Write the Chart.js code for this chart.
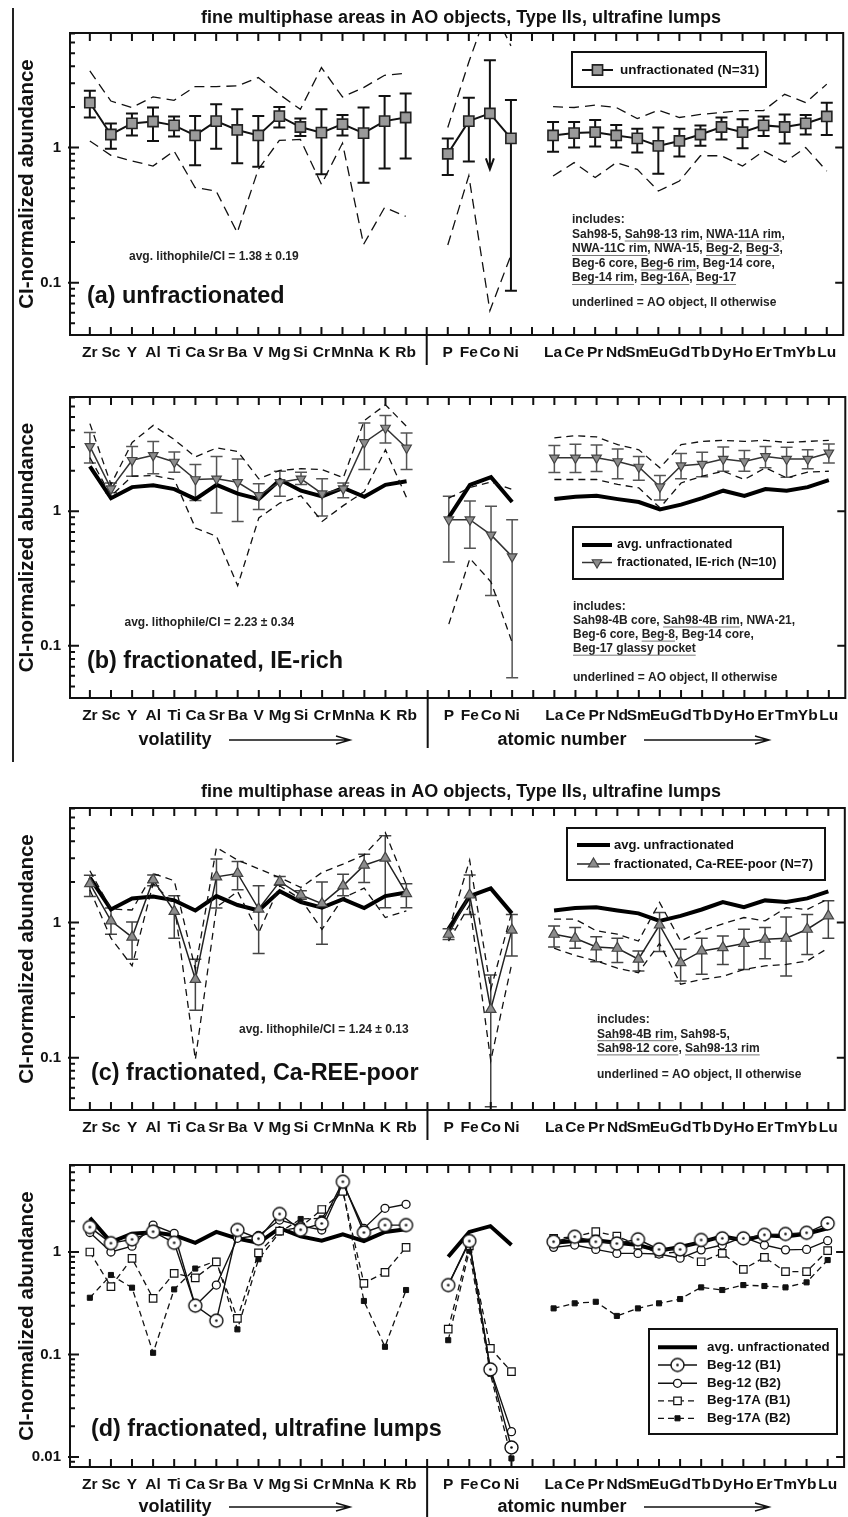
<!DOCTYPE html>
<html>
<head>
<meta charset="utf-8">
<script src="https://cdn.jsdelivr.net/npm/chart.js@4.4.1/dist/chart.umd.min.js"></script>
<style>
  html, body { margin: 0; padding: 0; background: #fff; overflow: hidden; }
  #wrap { position: relative; width: 852px; height: 1517px; }
  .panel { position: absolute; left: 0; width: 852px; }
  #edge { position: absolute; left: 12px; top: 8px; width: 2px; height: 754px; background: #222; }
</style>
</head>
<body>
<div id="wrap">
  <div class="panel" style="top:0"><canvas id="ca" width="852" height="372"></canvas></div>
  <div class="panel" style="top:372px"><canvas id="cb" width="852" height="393"></canvas></div>
  <div class="panel" style="top:765px"><canvas id="cc" width="852" height="378"></canvas></div>
  <div class="panel" style="top:1143px"><canvas id="cd" width="852" height="374"></canvas></div>
  <div id="edge"></div>
</div>
<script>
// ---- data ----
const _ = null;
const elements = ['Zr','Sc','Y','Al','Ti','Ca','Sr','Ba','V','Mg','Si','Cr','Mn','Na','K','Rb','',
  'P','Fe','Co','Ni','','La','Ce','Pr','Nd','Sm','Eu','Gd','Tb','Dy','Ho','Er','Tm','Yb','Lu'];

// (a) unfractionated, N=31
const unfracMean = [2.15,1.25,1.51,1.56,1.46,1.23,1.57,1.35,1.23,1.71,1.42,1.29,1.49,1.28,1.57,1.67,_,
  0.90,1.57,1.79,1.17,_, 1.23,1.28,1.30,1.23,1.17,1.03,1.12,1.25,1.42,1.30,1.46,1.42,1.51,1.70];
const unfracHi = [2.63,1.51,1.79,1.98,1.70,1.71,2.09,1.92,1.71,2.00,1.64,1.92,1.74,1.98,2.41,2.51,_,
  1.17,2.34,4.43,2.25,_, 1.55,1.55,1.60,1.47,1.38,1.41,1.38,1.46,1.67,1.62,1.70,1.76,1.74,2.15];
const unfracLo = [1.67,0.98,1.23,1.12,1.21,0.74,0.98,0.765,0.72,1.41,1.22,0.635,1.23,0.55,0.70,0.83,_,
  0.627,0.79,0.69,0.087,_, 0.93,1.00,1.02,1.00,0.92,0.64,0.86,1.03,1.15,0.99,1.22,1.07,1.25,1.24];
const unfracMax = [3.69,2.21,1.98,2.37,2.24,2.83,2.83,2.86,3.30,2.48,1.92,3.91,2.37,2.78,3.43,3.55,_,
  1.41,4.3,11.7,5.66,_, 2.01,1.98,2.06,1.98,1.64,1.89,1.67,1.76,1.82,1.88,1.88,2.48,2.15,2.95];
const unfracMin = [1.12,0.877,0.796,0.73,0.944,0.506,0.477,0.235,0.69,1.13,1.15,0.535,1.08,0.192,0.36,0.31,_,
  0.19,0.62,0.062,0.16,_, 0.616,0.774,0.60,0.774,0.69,0.477,0.565,0.87,0.87,0.73,0.944,0.78,1.0,0.67];

// (b) fractionated, IE-rich, N=10
const ieMean = [3.03,1.47,2.39,2.60,2.32,1.72,1.74,1.64,1.31,1.64,1.74,1.35,1.47,3.24,4.15,2.95,_,
  0.865,0.865,0.667,0.46,_, 2.49,2.49,2.49,2.34,2.13,1.52,2.18,2.24,2.44,2.34,2.55,2.44,2.44,2.71];
const ieHi = [3.85,1.62,3.03,3.30,2.75,2.22,2.55,2.44,1.60,1.98,1.95,1.74,1.62,4.52,5.14,3.81,_,
  1.29,1.19,1.09,0.865,_, 3.07,3.14,3.10,2.90,2.55,1.84,2.68,2.74,3.00,2.83,3.03,2.98,2.86,3.15];
const ieLo = [2.28,1.37,1.82,1.90,1.95,1.20,0.97,0.84,1.03,1.29,1.58,0.92,1.26,2.04,3.21,2.04,_,
  0.42,0.53,0.237,0.058,_, 1.94,1.94,1.97,1.74,1.70,1.21,1.74,1.80,1.98,1.98,2.10,1.79,2.07,2.28];
const ieMax = [4.47,1.58,3.24,4.34,3.40,2.53,2.95,2.78,1.74,2.01,2.07,2.04,1.77,4.72,6.17,4.26,_,
  1.25,1.5,1.65,1.45,_, 3.50,3.64,3.56,3.12,2.86,2.10,3.12,3.30,3.36,3.30,3.36,3.24,3.30,3.36];
const ieMin = [2.5,1.3,1.82,1.84,1.72,0.75,0.65,0.28,0.89,1.15,1.3,0.84,1.1,1.4,2.86,1.26,_,
  0.145,0.446,0.298,0.106,_, 1.72,1.72,1.72,1.58,1.49,1.06,1.62,1.82,1.98,1.72,2.10,1.77,1.95,1.98];

// (c) fractionated, Ca-REE-poor, N=7
const caMean = [1.94,1.03,0.78,2.07,1.21,0.38,2.18,2.31,1.26,2.01,1.60,1.38,1.87,2.66,3.00,1.64,_,
  0.82,1.60,0.228,0.88,_, 0.82,0.766,0.66,0.646,0.536,0.96,0.506,0.617,0.653,0.70,0.753,0.766,0.893,1.12];
const caHi = [2.24,1.28,1.01,2.25,1.58,0.536,2.95,2.83,1.87,2.19,1.72,2.00,2.28,3.21,4.39,1.94,_,
  0.90,2.25,0.41,1.15,_, 0.945,0.918,0.784,0.766,0.617,1.19,0.635,0.766,0.797,0.893,0.918,1.10,1.15,1.45];
const caLo = [1.56,0.82,0.536,1.87,0.766,0.224,1.28,1.75,0.59,1.89,1.49,0.69,1.58,1.98,1.29,1.29,_,
  0.75,1.15,0.0434,0.567,_, 0.66,0.646,0.514,0.506,0.439,0.61,0.37,0.415,0.49,0.45,0.54,0.403,0.58,0.766];
const caMax = [2.42,1.26,1.24,2.31,2.04,0.45,3.6,2.9,2.5,2.15,1.82,2.35,2.71,3.17,4.64,1.9,_,
  0.87,2.9,0.32,1.2,_, 1.06,1.06,0.87,0.82,0.73,1.41,0.73,0.87,0.98,1.09,1.03,1.29,1.25,1.5];
const caMin = [1.75,0.766,0.478,1.95,1.37,0.097,1.3,1.7,0.84,1.87,1.49,0.89,1.52,1.8,1.09,1.22,_,
  0.73,1.35,0.095,0.5,_, 0.646,0.57,0.52,0.46,0.426,0.7,0.35,0.38,0.40,0.45,0.478,0.49,0.52,0.65];

// (d) ultrafine lumps
const beg12B1 = [1.75,1.22,1.33,1.58,1.23,0.30,0.214,1.64,1.35,2.35,1.65,1.90,4.85,1.55,1.83,1.83,_,
  0.476,1.28,0.0716,0.0124,_, 1.26,1.41,1.26,1.21,1.33,1.06,1.06,1.31,1.36,1.36,1.47,1.50,1.54,1.90];
const beg12B2 = [1.55,1.00,1.14,1.83,1.52,0.30,0.476,1.36,1.45,2.05,1.80,1.64,4.7,1.70,2.67,2.92,_,
  0.476,1.25,0.072,0.0177,_, 1.11,1.17,1.06,0.97,0.97,0.955,0.87,1.05,1.17,1.40,1.17,1.05,1.06,1.29];
const beg17B1 = [1.0,0.46,0.867,0.353,0.62,0.56,0.80,0.225,0.98,1.6,1.75,2.6,3.9,0.495,0.634,1.11,_,
  0.177,1.15,0.115,0.068,_, 1.36,1.41,1.58,1.43,1.17,0.97,1.0,0.804,0.97,0.678,0.887,0.643,0.643,1.03];
const beg17B2 = [0.358,0.597,0.449,0.104,0.432,0.69,0.82,0.176,0.85,1.55,2.1,2.13,4.09,0.333,0.119,0.426,_,
  0.138,1.03,0.065,0.0097,_, 0.282,0.316,0.327,0.238,0.282,0.316,0.348,0.452,0.426,0.476,0.466,0.452,0.506,0.835];

const TITLE = 'fine multiphase areas in AO objects, Type IIs, ultrafine lumps';
const FONT = '"Liberation Sans", Arial, sans-serif';
const X_MIN = -0.942, X_MAX = 35.78;

function pts(arr) { return arr.map((v, i) => ({ x: i, y: v })); }

function dotCircle(r) {
  const c = document.createElement('canvas');
  const s = Math.ceil(2 * r + 4);
  c.width = c.height = s;
  const g = c.getContext('2d');
  g.beginPath(); g.arc(s / 2, s / 2, r, 0, Math.PI * 2);
  g.fillStyle = '#fff'; g.fill();
  g.lineWidth = 1.4; g.strokeStyle = '#111'; g.stroke();
  g.beginPath(); g.arc(s / 2, s / 2, 1.3, 0, Math.PI * 2);
  g.fillStyle = '#111'; g.fill();
  return c;
}
const dotImg = dotCircle(6.5);

// ---- dataset builders ----
function envelope(arr, dash) {
  return { data: pts(arr), borderColor: '#111', borderWidth: 1.3, borderDash: dash, pointRadius: 0, order: 5 };
}
function avgLine() {
  return { data: pts(unfracMean), borderColor: '#000', borderWidth: 4, pointRadius: 0, order: 10 };
}

// ---- drawing helpers ----
function drawMarker(ctx, ds, x, y) {
  const st = ds.pointStyle, r = ds.pointRadius, rot = (ds.pointRotation || 0) * Math.PI / 180;
  if (st instanceof HTMLCanvasElement) {
    ctx.drawImage(st, x - st.width / 2, y - st.height / 2);
    return;
  }
  ctx.save();
  ctx.fillStyle = ds.pointBackgroundColor;
  ctx.strokeStyle = ds.pointBorderColor;
  ctx.lineWidth = ds.pointBorderWidth;
  ctx.setLineDash([]);
  ctx.beginPath();
  if (st === 'rect') {
    const h = Math.SQRT1_2 * r;
    ctx.rect(x - h, y - h, 2 * h, 2 * h);
  } else if (st === 'triangle') {
    let a = rot;
    ctx.moveTo(x + Math.sin(a) * r, y - Math.cos(a) * r);
    a += 2 * Math.PI / 3; ctx.lineTo(x + Math.sin(a) * r, y - Math.cos(a) * r);
    a += 2 * Math.PI / 3; ctx.lineTo(x + Math.sin(a) * r, y - Math.cos(a) * r);
    ctx.closePath();
  } else {
    ctx.arc(x, y, r, 0, Math.PI * 2);
  }
  ctx.fill();
  ctx.stroke();
  ctx.restore();
}

function drawErrorBars(chart) {
  const { ctx, scales: { x, y } } = chart;
  chart.data.datasets.forEach(ds => {
    if (!ds.errHi) return;
    ctx.save();
    ctx.strokeStyle = ds.errColor;
    ctx.lineWidth = ds.errWidth;
    ds.errHi.forEach((hi, i) => {
      const lo = ds.errLo[i];
      if (hi == null || lo == null) return;
      const px = x.getPixelForValue(i), yh = y.getPixelForValue(hi), yl = y.getPixelForValue(lo);
      ctx.beginPath();
      ctx.moveTo(px, yh); ctx.lineTo(px, yl);
      ctx.moveTo(px - 6, yh); ctx.lineTo(px + 6, yh);
      if (ds.errArrow && ds.errArrow.includes(i)) {
        ctx.moveTo(px - 4, yl - 11); ctx.lineTo(px, yl); ctx.lineTo(px + 4, yl - 11);
      } else {
        ctx.moveTo(px - 6, yl); ctx.lineTo(px + 6, yl);
      }
      ctx.stroke();
    });
    ctx.restore();
  });
}

function text(ctx, s, x, y, size, align, color) {
  ctx.font = 'bold ' + size + 'px ' + FONT;
  ctx.fillStyle = color || '#111';
  ctx.textAlign = align || 'left';
  ctx.textBaseline = 'middle';
  ctx.fillText(s, x, y);
}

function arrowRight(ctx, x0, x1, y) {
  ctx.save();
  ctx.strokeStyle = '#111'; ctx.lineWidth = 1.5;
  ctx.beginPath();
  ctx.moveTo(x0, y); ctx.lineTo(x1, y);
  ctx.moveTo(x1 - 14, y - 4); ctx.lineTo(x1, y); ctx.lineTo(x1 - 14, y + 4);
  ctx.stroke();
  ctx.restore();
}

const decor = {
  id: 'decor',
  beforeDatasetsDraw(chart) { drawErrorBars(chart); },
  afterDatasetsDraw(chart, args, o) {
    const { ctx, chartArea: a, scales: { x, y } } = chart;
    const off = o.offset;
    ctx.save();
    // frame and ticks
    ctx.strokeStyle = '#111'; ctx.lineWidth = 2; ctx.setLineDash([]);
    ctx.strokeRect(a.left, a.top, a.right - a.left, a.bottom - a.top);
    ctx.beginPath();
    for (let i = 0; i < elements.length; i++) {
      const px = x.getPixelForValue(i);
      ctx.moveTo(px, a.top); ctx.lineTo(px, a.top + 8);
      ctx.moveTo(px, a.bottom); ctx.lineTo(px, a.bottom - 8);
    }
    const d0 = Math.floor(Math.log10(y.min)), d1 = Math.ceil(Math.log10(y.max));
    for (let d = d0; d <= d1; d++) {
      for (let m = 1; m <= 9; m++) {
        const v = m * Math.pow(10, d);
        if (v < y.min || v > y.max) continue;
        const py = y.getPixelForValue(v);
        if (m === 1) {
          ctx.moveTo(a.left - 2, py); ctx.lineTo(a.left + 9, py);
          ctx.moveTo(a.right - 8, py); ctx.lineTo(a.right, py);
        } else {
          ctx.moveTo(a.left, py); ctx.lineTo(a.left + 5, py);
        }
      }
    }
    const dx = x.getPixelForValue(16);
    ctx.moveTo(dx, a.bottom); ctx.lineTo(dx, a.bottom + o.divLen);
    ctx.stroke();

    // y tick labels
    o.yLabels.forEach(v => text(ctx, String(v), 61, y.getPixelForValue(v), 15, 'right'));
    // x labels
    elements.forEach((s, i) => { if (s) text(ctx, s, x.getPixelForValue(i), a.bottom + 18, 15.5, 'center'); });

    // y axis title
    ctx.save();
    ctx.translate(27, (a.top + a.bottom) / 2);
    ctx.rotate(-Math.PI / 2);
    text(ctx, 'CI-normalized abundance', 0, 0, 20.5, 'center');
    ctx.restore();

    if (o.title) text(ctx, TITLE, 461, o.title - off, 18, 'center');
    if (o.bottomTitles) {
      const by = o.bottomTitles - off;
      text(ctx, 'volatility', 175, by, 18, 'center');
      arrowRight(ctx, 229, 350, by);
      text(ctx, 'atomic number', 562, by, 18, 'center');
      arrowRight(ctx, 644, 769, by);
    }
    text(ctx, o.label[0], o.label[1], o.label[2] - off, 23.4, 'left');
    if (o.avg) text(ctx, o.avg[0], o.avg[1], o.avg[2] - off, 12, 'left', '#222');

    // includes block with underlined names
    if (o.includes) {
      const inc = o.includes;
      ctx.font = 'bold 12px ' + FONT;
      inc.lines.forEach((line, li) => {
        let cx = inc.x;
        const ly = inc.ys[li] - off;
        line.forEach(([s, u]) => {
          text(ctx, s, cx, ly, 12, 'left', '#222');
          const w = ctx.measureText(s).width;
          if (u) {
            ctx.save();
            ctx.strokeStyle = '#777'; ctx.lineWidth = 1;
            ctx.beginPath(); ctx.moveTo(cx, ly + 6.5); ctx.lineTo(cx + w, ly + 6.5); ctx.stroke();
            ctx.restore();
          }
          cx += w;
        });
      });
      text(ctx, 'underlined = AO object, II otherwise', inc.x, inc.note - off, 12, 'left', '#222');
    }

    // legend box
    if (o.legend) {
      const L = o.legend;
      ctx.fillStyle = '#fff';
      ctx.fillRect(L.x, L.y - off, L.w, L.h);
      ctx.strokeStyle = '#111'; ctx.lineWidth = 2; ctx.setLineDash([]);
      ctx.strokeRect(L.x, L.y - off, L.w, L.h);
      L.items.forEach(it => {
        const ds = chart.data.datasets[it.ds];
        const iy = it.y - off;
        ctx.save();
        ctx.strokeStyle = ds.borderColor; ctx.lineWidth = ds.borderWidth;
        ctx.setLineDash(ds.borderDash || []);
        ctx.beginPath(); ctx.moveTo(L.s0, iy); ctx.lineTo(L.s1, iy); ctx.stroke();
        ctx.restore();
        if (ds.pointRadius) drawMarker(ctx, ds, (L.s0 + L.s1) / 2, iy);
        text(ctx, it.text, L.tx, iy, L.size, 'left');
      });
    }
    ctx.restore();
  }
};

function makeChart(id, cfg) {
  new Chart(document.getElementById(id), {
    type: 'line',
    data: { datasets: cfg.datasets },
    options: {
      responsive: false,
      animation: false,
      events: [],
      layout: { padding: { left: 70, right: 2, top: cfg.padTop, bottom: cfg.padBottom } },
      elements: { line: { tension: 0 } },
      scales: {
        x: { type: 'linear', min: X_MIN, max: X_MAX, display: false },
        y: { type: 'logarithmic', min: cfg.ymin, max: cfg.ymax, display: false }
      },
      plugins: { legend: { display: false }, tooltip: { enabled: false }, decor: cfg.decor }
    },
    plugins: [decor]
  });
}

// ---- panel (a) ----
makeChart('ca', {
  padTop: 33, padBottom: 37, ymin: 0.041, ymax: 7.05,
  datasets: [
    { data: pts(unfracMean), borderColor: '#111', borderWidth: 2, pointStyle: 'rect', pointRadius: 7.2,
      pointBackgroundColor: '#9a9a9a', pointBorderColor: '#222', pointBorderWidth: 1.6, order: 1,
      errHi: unfracHi, errLo: unfracLo, errColor: '#111', errWidth: 2, errArrow: [19] },
    envelope(unfracMax, [10, 6]),
    envelope(unfracMin, [10, 6])
  ],
  decor: {
    offset: 0, divLen: 30, yLabels: [1, 0.1], title: 18,
    label: ['(a) unfractionated', 87, 297],
    avg: ['avg. lithophile/CI = 1.38 \u00b1 0.19', 129, 257],
    includes: {
      x: 572, ys: [220, 234.5, 249, 263.5, 278], note: 303,
      lines: [
        [['includes:', 0]],
        [['Sah98-5, ', 0], ['Sah98-13 rim', 1], [', ', 0], ['NWA-11A rim', 1], [',', 0]],
        [['NWA-11C rim', 1], [', NWA-15, ', 0], ['Beg-2', 1], [', ', 0], ['Beg-3', 1], [',', 0]],
        [['Beg-6 core, ', 0], ['Beg-6 rim', 1], [', Beg-14 core,', 0]],
        [['Beg-14 rim', 1], [', ', 0], ['Beg-16A', 1], [', ', 0], ['Beg-17', 1]]
      ]
    },
    legend: { x: 572, y: 52, w: 194, h: 35, s0: 582, s1: 613, tx: 620, size: 13.5,
      items: [{ ds: 0, y: 70, text: 'unfractionated (N=31)' }] }
  }
});

// ---- panel (b) ----
makeChart('cb', {
  padTop: 25, padBottom: 67, ymin: 0.041, ymax: 7.05,
  datasets: [
    { data: pts(ieMean), borderColor: '#333', borderWidth: 1.5, pointStyle: 'triangle', pointRotation: 180,
      pointRadius: 5.5, pointBackgroundColor: '#8c8c8c', pointBorderColor: '#444', pointBorderWidth: 1.2, order: 1,
      errHi: ieHi, errLo: ieLo, errColor: '#555', errWidth: 1.5 },
    envelope(ieMax, [7, 5]),
    envelope(ieMin, [7, 5]),
    avgLine()
  ],
  decor: {
    offset: 372, divLen: 50, yLabels: [1, 0.1], bottomTitles: 740,
    label: ['(b) fractionated, IE-rich', 87, 662],
    avg: ['avg. lithophile/CI = 2.23 \u00b1 0.34', 124.5, 623],
    includes: {
      x: 573, ys: [606.4, 620.5, 634.6, 648.7], note: 677.3,
      lines: [
        [['includes:', 0]],
        [['Sah98-4B core, ', 0], ['Sah98-4B rim', 1], [', NWA-21,', 0]],
        [['Beg-6 core, ', 0], ['Beg-8', 1], [', Beg-14 core,', 0]],
        [['Beg-17 glassy pocket', 1]]
      ]
    },
    legend: { x: 573, y: 527, w: 210, h: 52, s0: 582, s1: 612, tx: 617, size: 12.5,
      items: [{ ds: 3, y: 545, text: 'avg. unfractionated' },
              { ds: 0, y: 562.5, text: 'fractionated, IE-rich (N=10)' }] }
  }
});

// ---- panel (c) ----
makeChart('cc', {
  padTop: 43, padBottom: 33, ymin: 0.041, ymax: 7.05,
  datasets: [
    { data: pts(caMean), borderColor: '#222', borderWidth: 1.5, pointStyle: 'triangle',
      pointRadius: 6, pointBackgroundColor: '#8c8c8c', pointBorderColor: '#444', pointBorderWidth: 1.2, order: 1,
      errHi: caHi, errLo: caLo, errColor: '#444', errWidth: 1.5 },
    envelope(caMax, [7, 5]),
    envelope(caMin, [7, 5]),
    avgLine()
  ],
  decor: {
    offset: 765, divLen: 30, yLabels: [1, 0.1], title: 792,
    label: ['(c) fractionated, Ca-REE-poor', 91, 1073.5],
    avg: ['avg. lithophile/CI = 1.24 \u00b1 0.13', 239, 1030],
    includes: {
      x: 597, ys: [1020, 1034.2, 1048.4], note: 1075,
      lines: [
        [['includes:', 0]],
        [['Sah98-4B rim', 1], [', Sah98-5,', 0]],
        [['Sah98-12 core', 1], [', ', 0], ['Sah98-13 rim', 1]]
      ]
    },
    legend: { x: 567, y: 828, w: 258, h: 52, s0: 577, s1: 610, tx: 614, size: 13,
      items: [{ ds: 3, y: 845, text: 'avg. unfractionated' },
              { ds: 0, y: 864, text: 'fractionated, Ca-REE-poor (N=7)' }] }
  }
});

// ---- panel (d) ----
makeChart('cd', {
  padTop: 22, padBottom: 50, ymin: 0.008, ymax: 7.06,
  datasets: [
    { data: pts(beg12B1), borderColor: '#111', borderWidth: 1.4, pointStyle: dotImg, pointRadius: 6.5, order: 1 },
    { data: pts(beg12B2), borderColor: '#111', borderWidth: 1.4, pointStyle: 'circle', pointRadius: 4,
      pointBackgroundColor: '#fff', pointBorderColor: '#111', pointBorderWidth: 1.3, order: 2 },
    { data: pts(beg17B1), borderColor: '#111', borderWidth: 1.3, borderDash: [6, 4], pointStyle: 'rect', pointRadius: 5.3,
      pointBackgroundColor: '#fff', pointBorderColor: '#111', pointBorderWidth: 1.2, order: 3 },
    { data: pts(beg17B2), borderColor: '#111', borderWidth: 1.3, borderDash: [6, 4], pointStyle: 'rect', pointRadius: 3.6,
      pointBackgroundColor: '#111', pointBorderColor: '#111', pointBorderWidth: 1, order: 4 },
    avgLine()
  ],
  decor: {
    offset: 1143, divLen: 50, yLabels: [1, 0.1, 0.01], bottomTitles: 1507,
    label: ['(d) fractionated, ultrafine lumps', 91, 1430],
    legend: { x: 649, y: 1329, w: 188, h: 105, s0: 658, s1: 697, tx: 707, size: 13.3,
      items: [{ ds: 4, y: 1347.3, text: 'avg. unfractionated' },
              { ds: 0, y: 1365, text: 'Beg-12 (B1)' },
              { ds: 1, y: 1383.3, text: 'Beg-12 (B2)' },
              { ds: 2, y: 1400.8, text: 'Beg-17A (B1)' },
              { ds: 3, y: 1418.3, text: 'Beg-17A (B2)' }] }
  }
});
</script>
</body>
</html>
